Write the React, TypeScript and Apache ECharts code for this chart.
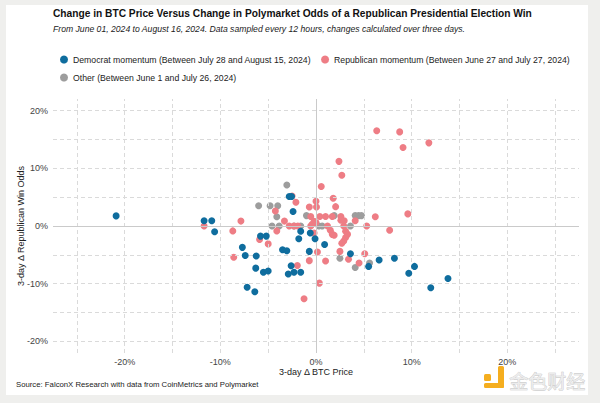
import React, { useEffect, useRef } from "react";
import * as echarts from "echarts";

const TITLE = "Change in BTC Price Versus Change in Polymarket Odds of a Republican Presidential Election Win";
const SUBTITLE = "From June 01, 2024 to August 16, 2024. Data sampled every 12 hours, changes calculated over three days.";
const SOURCE = "Source: FalconX Research with data from CoinMetrics and Polymarket";
const X_NAME = "3-day Δ BTC Price";
const Y_NAME = "3-day Δ Republican Win Odds";

const DEM_NAME = "Democrat momentum (Between July 28 and August 15, 2024)";
const REP_NAME = "Republican momentum (Between June 27 and July 27, 2024)";
const OTHER_NAME = "Other (Between June 1 and July 26, 2024)";

const X_GRID = [-25, -20, -15, -10, -5, 5, 10, 15, 20, 25];
const Y_GRID = [-20, -15, -10, -5, 5, 10, 15, 20];

// [3-day Δ BTC price %, 3-day Δ Republican win odds %]
const demPoints: number[][] = [
  [-20.9, 1.75], [-11.7, 0.9], [-10.9, 0.9], [-10.6, -1.0], [-7.7, -3.7],
  [-7.4, -5.1], [-6.25, -5.2], [-6.3, -7.3], [-7.2, -10.6], [-6.4, -11.4],
  [-5.8, -1.75], [-5.2, -1.75], [-5.5, -8.0], [-5.0, -7.8], [-3.5, -4.1],
  [-3.05, -4.3], [-2.6, -6.9], [-2.9, -8.3], [-2.3, -8.0], [-1.6, -8.0],
  [-2.8, 5.1], [-2.55, 5.1], [-2.4, 2.5], [-1.6, -0.9], [-1.8, -2.2],
  [-0.7, -4.4], [-0.6, -1.2], [-0.1, -2.2], [0.9, -3.2], [3.6, -4.8],
  [5.5, -7.0], [6.6, -5.9], [8.2, -5.6], [9.7, -8.2], [10.3, -7.0],
  [12.0, -10.7], [13.8, -9.1],
];

const repPoints: number[][] = [
  [-11.7, 0], [-8.7, -0.85], [-7.85, 0.85], [-8.6, -5.4], [-5.9, -2.35],
  [-5.0, -3.1], [-4.25, 2.6], [-4.1, -0.85], [-3.3, 0.85], [-2.8, 0],
  [-2.3, 0], [-1.9, 0], [-2.5, 5.2], [-2.1, 4.1], [-1.95, -6.85],
  [-1.25, -12.6], [-0.7, 3.3], [0.0, 4.3], [0.05, 3.3], [0.55, 6.85],
  [1.8, 4.8], [2.05, 3.35], [2.4, 11.2], [2.7, 8.8], [6.35, 16.5],
  [8.75, 16.3], [9.1, 13.6], [11.8, 14.4], [9.6, 2.1], [6.2, 1.6],
  [7.7, -0.75], [5.3, 0], [4.1, 0.9], [-0.55, 1.65], [0.4, 1.65],
  [1.0, 1.65], [1.7, 1.65], [2.6, 1.65], [-0.2, 0.8], [-0.4, 0.3],
  [-0.55, 0], [1.2, 0], [1.5, -0.75], [1.7, -1.45], [1.9, -1.6],
  [2.9, 0], [3.1, -0.9], [3.3, -1.45], [3.1, -2.0], [2.9, -2.6],
  [2.7, -3.0], [2.5, -4.4], [0.15, -4.5], [-0.7, -6.0], [1.0, -6.05],
  [3.4, -5.75], [4.5, -6.4], [5.1, -4.8], [0.35, -9.9], [2.6, 1.0],
  [2.95, 0.9], [-0.2, -1.2], [0.0, 0.6],
];

const otherPoints: number[][] = [
  [-3.05, 7.1], [-6.0, 3.5], [-4.8, 3.5], [-4.0, 3.5], [-4.1, 1.6],
  [-4.6, 0], [-3.85, 0], [-2.3, 0], [-1.6, 0], [-1.0, 1.8],
  [0.3, 0], [0.65, 0], [1.9, 1.8], [4.1, 1.8], [4.45, 1.8],
  [4.75, 1.8], [3.6, 0], [2.5, -5.6], [4.1, -7.2], [5.6, -6.4],
];

const BLUE = "#0f6d9e";
const PINK = "#ee7d85";
const GREY = "#9d9d9d";
const FONT = "'Liberation Sans', Arial, sans-serif";

export default function App() {
  const ref = useRef<HTMLDivElement>(null);

  useEffect(() => {
    document.body.style.margin = "0";
    if (!ref.current) return;
    const chart = echarts.init(ref.current, undefined, { renderer: "svg" });

    const pointSeries = (name: string, data: number[][], color: string, z: number) => ({
      name,
      type: "scatter",
      data,
      symbol: "circle",
      symbolSize: 7,
      z,
      itemStyle: { color, opacity: 1 },
      emphasis: { disabled: true },
    });

    const legendText = { fontSize: 8.7, color: "#222", fontFamily: FONT };

    const option: any = {
      animation: false,
      backgroundColor: "transparent",
      textStyle: { fontFamily: FONT },
      title: {
        text: TITLE,
        subtext: SUBTITLE,
        left: 48,
        top: 3,
        itemGap: 6,
        textStyle: { fontSize: 10.2, fontWeight: "bold", color: "#111", fontFamily: FONT },
        subtextStyle: { fontSize: 8.65, fontStyle: "italic", color: "#222", fontFamily: FONT },
      },
      legend: [
        {
          data: [DEM_NAME, REP_NAME],
          left: 60,
          top: 55,
          padding: 0,
          icon: "circle",
          itemWidth: 8,
          itemHeight: 8,
          itemGap: 10,
          selectedMode: false,
          textStyle: legendText,
        },
        {
          data: [OTHER_NAME],
          left: 60,
          top: 73,
          padding: 0,
          icon: "circle",
          itemWidth: 8,
          itemHeight: 8,
          selectedMode: false,
          textStyle: legendText,
        },
      ],
      grid: { left: 53, right: 21, top: 99, bottom: 50 },
      xAxis: {
        type: "value",
        min: -27.5,
        max: 27.5,
        interval: 2.5,
        axisLine: { show: false },
        axisTick: { show: false },
        splitLine: { show: false },
        axisLabel: {
          margin: 4,
          fontSize: 9,
          color: "#444",
          fontFamily: FONT,
          formatter: (v: number) => (Math.abs(v % 10) < 1e-6 ? `${Math.round(v)}%` : ""),
        },
        name: X_NAME,
        nameLocation: "middle",
        nameGap: 14,
        nameMoveOverlap: false,
        nameTextStyle: { fontSize: 9, color: "#222", fontFamily: FONT },
      },
      yAxis: {
        type: "value",
        min: -22,
        max: 22,
        interval: 2,
        axisLine: { show: false },
        axisTick: { show: false },
        splitLine: { show: false },
        axisLabel: {
          margin: 5,
          fontSize: 9,
          color: "#444",
          fontFamily: FONT,
          formatter: (v: number) => (Math.abs(v % 10) < 1e-6 ? `${Math.round(v)}%` : ""),
        },
        name: Y_NAME,
        nameLocation: "middle",
        nameGap: 28,
        nameMoveOverlap: false,
        nameTextStyle: { fontSize: 9, color: "#222", fontFamily: FONT },
      },
      graphic: [
        {
          type: "text",
          left: 16,
          top: 380,
          style: { text: SOURCE, fontSize: 7.75, fill: "#222", fontFamily: FONT },
        },
        { type: "rect", shape: { x: 484, y: 374, width: 7, height: 7, r: 1.5 }, style: { fill: "#f5ae1f" } },
        { type: "rect", shape: { x: 484, y: 383, width: 20, height: 5, r: 1.5 }, style: { fill: "#f5ae1f" } },
        { type: "rect", shape: { x: 498, y: 366, width: 6, height: 22, r: 1.5 }, style: { fill: "#f5ae1f" } },
        {
          type: "text",
          left: 509,
          top: 371,
          style: {
            text: "金色财经",
            fontSize: 19,
            fill: "#ececec",
            stroke: "#c4c4c4",
            lineWidth: 0.7,
            fontFamily: "'Noto Sans CJK SC', sans-serif",
          },
        },
      ],
      series: [
        {
          name: "grid",
          type: "scatter",
          data: [],
          silent: true,
          z: 1,
          markLine: {
            silent: true,
            symbol: ["none", "none"],
            label: { show: false },
            emphasis: { disabled: true },
            lineStyle: { type: [4, 3], color: "#dadada", width: 1 },
            data: [
              ...X_GRID.map((v) => ({ xAxis: v })),
              ...Y_GRID.map((v) => ({ yAxis: v })),
            ],
          },
        },
        {
          name: "zero",
          type: "scatter",
          data: [],
          silent: true,
          z: 2,
          markLine: {
            silent: true,
            symbol: ["none", "none"],
            label: { show: false },
            emphasis: { disabled: true },
            lineStyle: { type: "solid", color: "#cacaca", width: 1 },
            data: [{ xAxis: 0 }, { yAxis: 0 }],
          },
        },
        pointSeries(OTHER_NAME, otherPoints, GREY, 3),
        pointSeries(REP_NAME, repPoints, PINK, 4),
        pointSeries(DEM_NAME, demPoints, BLUE, 5),
      ],
    };

    chart.setOption(option);
    return () => chart.dispose();
  }, []);

  return (
    <div style={{ position: "relative", width: 600, height: 403, background: "#efefed", overflow: "hidden" }}>
      <div style={{ position: "absolute", left: 6, top: 5, width: 582, height: 390, background: "#ffffff" }} />
      <div ref={ref} style={{ position: "absolute", left: 0, top: 0, width: 600, height: 403 }} />
    </div>
  );
}
